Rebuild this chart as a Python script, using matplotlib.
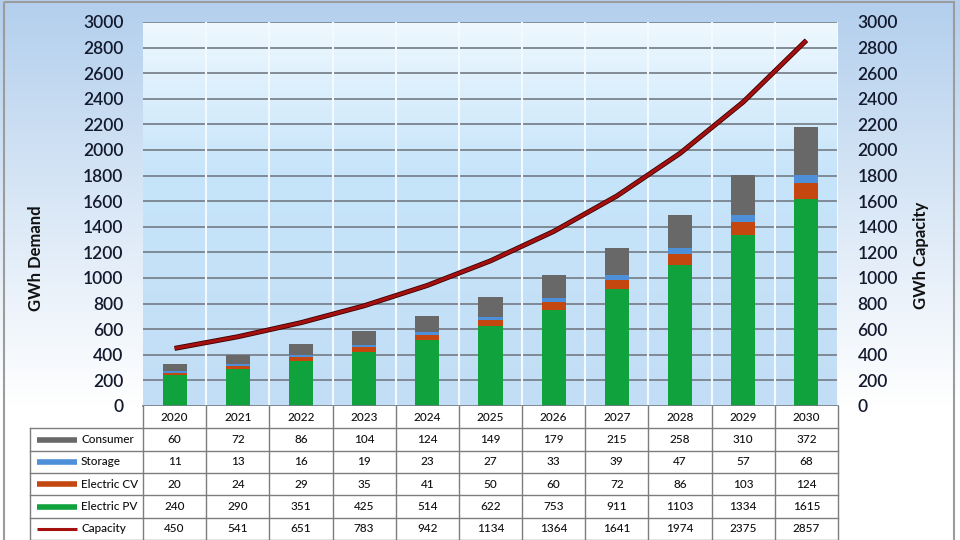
import numpy as np
import matplotlib
matplotlib.use("Agg")
import matplotlib.pyplot as plt
from matplotlib.colors import LinearSegmentedColormap

plt.rcParams['font.family'] = ['Lato', 'DejaVu Sans']

years = ['2020', '2021', '2022', '2023', '2024', '2025', '2026', '2027', '2028', '2029', '2030']
consumer = [60, 72, 86, 104, 124, 149, 179, 215, 258, 310, 372]
storage = [11, 13, 16, 19, 23, 27, 33, 39, 47, 57, 68]
electric_cv = [20, 24, 29, 35, 41, 50, 60, 72, 86, 103, 124]
electric_pv = [240, 290, 351, 425, 514, 622, 753, 911, 1103, 1334, 1615]
capacity = [450, 541, 651, 783, 942, 1134, 1364, 1641, 1974, 2375, 2857]

yticks = list(range(0, 3001, 200))

c_cons = '#686868'
c_stor = '#4d8fd8'
c_cv = '#c4470f'
c_pv = '#0fa23d'
c_cap = '#a3100f'
txt = '#141a2e'

W, H = 960, 540
fig = plt.figure(figsize=(9.6, 5.4), dpi=100)

# background with gradient and frame
bg = fig.add_axes([0, 0, 1, 1], zorder=-5)
bg_cmap = LinearSegmentedColormap.from_list('bg', [(0, '#b3cfed'), (0.75, '#ffffff'), (1, '#ffffff')])
bg.imshow(np.linspace(0, 1, 256).reshape(-1, 1), aspect='auto', cmap=bg_cmap,
          extent=(0, W, H, 0))
bg.set_xlim(0, W)
bg.set_ylim(H, 0)
bg.add_patch(plt.Rectangle((4, 2), 950, 545, fill=False, ec='#9c9c9c', lw=1.5))
bg.axis('off')

# main chart
left, right, top, bottom = 143, 838, 22, 406
ax = fig.add_axes([left / W, 1 - bottom / H, (right - left) / W, (bottom - top) / H])
x = np.arange(len(years))
ax.set_xlim(-0.5, len(years) - 0.5)
pa_cmap = LinearSegmentedColormap.from_list('pa', [(0, '#c2def6'), (0.6, '#c6e4fa'), (1, '#eef8fe')])
ax.imshow(np.linspace(0, 1, 256).reshape(-1, 1), aspect='auto', cmap=pa_cmap,
          extent=(-0.5, len(years) - 0.5, 3000, 0), zorder=0)
ax.set_ylim(0, 3000)
for yv in yticks[1:]:
    ax.axhline(yv, color='#737b84', lw=1.2, zorder=1)
for k in range(len(years)):
    ax.axvline(k + 0.5, color='#f2f9ff', lw=1.5, zorder=1)

bw = 0.38
b1 = np.array(electric_pv)
b2 = b1 + np.array(electric_cv)
b3 = b2 + np.array(storage)
ax.bar(x, electric_pv, bw, color=c_pv, zorder=2)
ax.bar(x, electric_cv, bw, bottom=b1, color=c_cv, zorder=2)
ax.bar(x, storage, bw, bottom=b2, color=c_stor, zorder=2)
ax.bar(x, consumer, bw, bottom=b3, color=c_cons, zorder=2)

ax.set_xticks([])
ax.set_yticks(yticks)
ax.tick_params(axis='y', length=0, pad=14, labelsize=12.5, labelcolor=txt)
for lab in ax.get_yticklabels():
    lab.set_fontweight('semibold')
for s in ['top', 'right', 'left']:
    ax.spines[s].set_visible(False)
ax.spines['bottom'].set_color('#737b84')
ax.spines['bottom'].set_linewidth(1.2)

ax2 = ax.twinx()
ax2.plot(x, capacity, color='#3a0000', lw=3.6, zorder=3, solid_capstyle='butt')
ax2.plot(x, capacity, color=c_cap, lw=2.4, zorder=4, solid_capstyle='butt')
ax2.set_ylim(0, 3000)
ax2.set_yticks(yticks)
ax2.tick_params(axis='y', length=0, pad=14, labelsize=12.5, labelcolor=txt)
for lab in ax2.get_yticklabels():
    lab.set_fontweight('semibold')
for s in ax2.spines.values():
    s.set_visible(False)

fig.text(36 / W, 1 - 258 / H, 'GWh Demand', rotation=90, ha='center', va='center',
         fontsize=12, fontweight='bold', color='#111111')
fig.text(921 / W, 1 - 255 / H, 'GWh Capacity', rotation=90, ha='center', va='center',
         fontsize=12, fontweight='bold', color='#111111')

# data table
tleft = 30
unit = (right - left) / len(years)
x0 = -0.5 - (left - tleft) / unit
tab = fig.add_axes([tleft / W, 0, (right - tleft) / W, (H - bottom) / H])
tab.set_xlim(x0, len(years) - 0.5)
tab.set_ylim(6, 0)
tab.axis('off')
tab.add_patch(plt.Rectangle((x0, 1), len(years) - 0.5 - x0, 5, fc='white', ec='none', zorder=0))
tab.add_patch(plt.Rectangle((-0.5, 0), len(years), 1, fc='white', ec='none', zorder=0))
gc = '#7d7d7d'
for r in range(1, 7):
    tab.plot([x0, len(years) - 0.5], [r, r], color=gc, lw=1.0, clip_on=False)
for k in range(len(years) + 1):
    tab.plot([k - 0.5, k - 0.5], [0, 6], color=gc, lw=1.0, clip_on=False)
tab.plot([x0, x0], [1, 6], color=gc, lw=1.0, clip_on=False)

fs = 8.5
for i, yr in enumerate(years):
    tab.text(i, 0.5, yr, ha='center', va='center', fontsize=fs, color='#111111', fontweight='medium')

rows = [('Consumer', consumer, c_cons, 4.0),
        ('Storage', storage, c_stor, 4.0),
        ('Electric CV', electric_cv, c_cv, 4.0),
        ('Electric PV', electric_pv, c_pv, 4.0),
        ('Capacity', capacity, c_cap, 2.2)]
sw0 = x0 + 7 / unit
sw1 = x0 + 47 / unit
for r, (name, vals, col, lw) in enumerate(rows):
    yc = r + 1.5
    tab.plot([sw0, sw1], [yc, yc], color=col, lw=lw, solid_capstyle='butt')
    tab.text(x0 + 51 / unit, yc, name, ha='left', va='center', fontsize=fs, color='#111111', fontweight='medium')
    for i, v in enumerate(vals):
        tab.text(i, yc, str(v), ha='center', va='center', fontsize=fs, color='#111111', fontweight='medium')

fig.savefig('out.png', dpi=100)
